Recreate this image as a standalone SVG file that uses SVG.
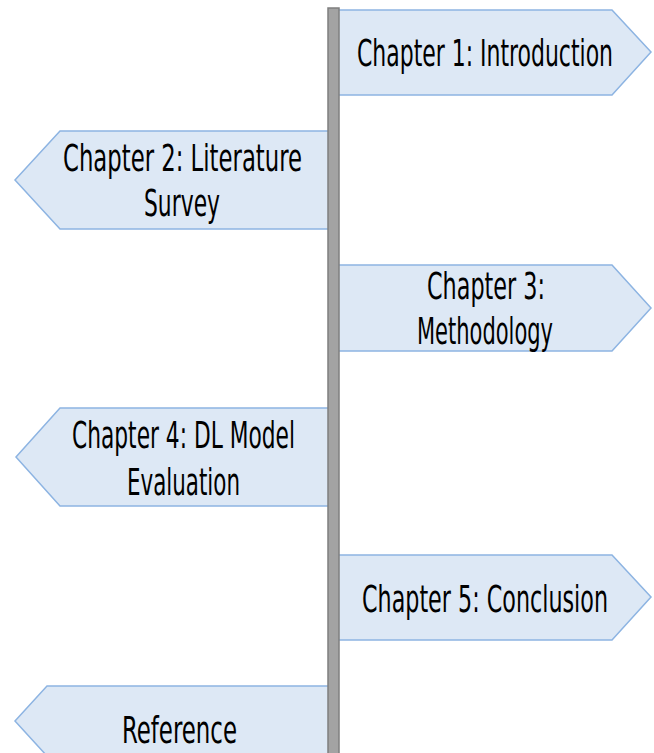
<svg xmlns="http://www.w3.org/2000/svg" width="654" height="753" viewBox="0 0 654 753">
<style>
.sign{fill:#dde8f5;stroke:#8db4e2;stroke-width:1.5;stroke-linejoin:miter}
.lbl{font-family:"Liberation Sans Narrow","DejaVu Sans Condensed","Liberation Sans",sans-serif;font-size:38px;fill:#000}
</style>
<rect width="654" height="753" fill="#fff"/>
<g id="connectors"></g>
<g id="node1"><polygon class="sign" points="338,10 612,10 651,52 612,95 338,95"/><text class="lbl" x="357" y="66" textLength="256" lengthAdjust="spacingAndGlyphs">Chapter 1: Introduction</text></g>
<g id="node2"><polygon class="sign" points="329,131 60,131 15,180 60,229 329,229"/><text class="lbl" x="63" y="171" textLength="239" lengthAdjust="spacingAndGlyphs">Chapter 2: Literature</text><text class="lbl" x="144" y="216" textLength="76" lengthAdjust="spacingAndGlyphs">Survey</text></g>
<g id="node3"><polygon class="sign" points="338,265 612,265 651,308 612,351 338,351"/><text class="lbl" x="427" y="299" textLength="118" lengthAdjust="spacingAndGlyphs">Chapter 3:</text><text class="lbl" x="417" y="344" textLength="136" lengthAdjust="spacingAndGlyphs">Methodology</text></g>
<g id="node4"><polygon class="sign" points="329,408 60,408 16,457 60,506 329,506"/><text class="lbl" x="72" y="448" textLength="223" lengthAdjust="spacingAndGlyphs">Chapter 4: DL Model</text><text class="lbl" x="127" y="495" textLength="113" lengthAdjust="spacingAndGlyphs">Evaluation</text></g>
<g id="node5"><polygon class="sign" points="338,555 612,555 651,597 612,640 338,640"/><text class="lbl" x="362" y="612" textLength="246" lengthAdjust="spacingAndGlyphs">Chapter 5: Conclusion</text></g>
<g id="node6"><polygon class="sign" points="329,686 47,686 15,721 47,756 329,756"/><text class="lbl" x="122" y="743" textLength="115" lengthAdjust="spacingAndGlyphs">Reference</text></g>
<g id="pole"><rect x="328" y="8" width="11" height="760" fill="#a3a3a3" stroke="#7f7f7f" stroke-width="1.5"/></g>
</svg>
